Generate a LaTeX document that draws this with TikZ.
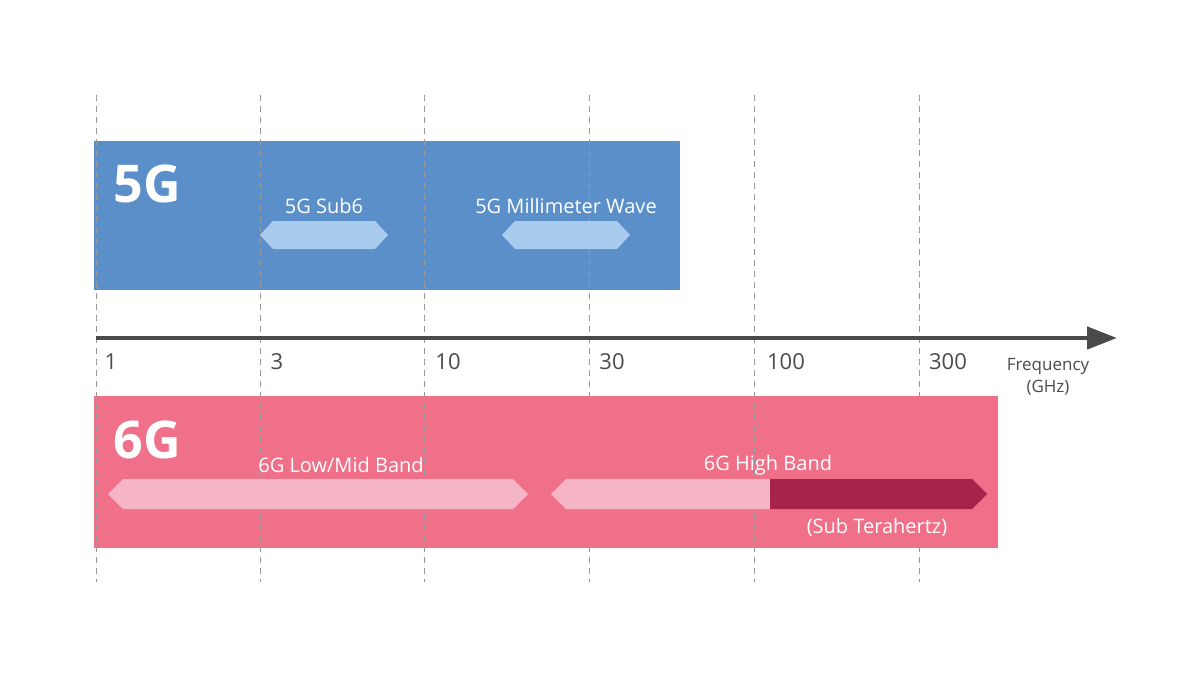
\documentclass[tikz,border=0pt]{standalone}
\usepackage{fontspec}
\setmainfont{Open Sans}
\usetikzlibrary{arrows.meta}
\definecolor{blueband}{HTML}{5A8FC9}
\definecolor{lightblue}{HTML}{A9CBEE}
\definecolor{pinkband}{HTML}{F07089}
\definecolor{lightpink}{HTML}{F6B5C4}
\definecolor{darkred}{HTML}{A8234A}
\definecolor{axisgray}{HTML}{4A4A4A}
\begin{document}
\begin{tikzpicture}[x=1pt,y=-1pt,
  grid/.style={gray!80,dash pattern=on 6pt off 5pt,line width=0.8pt},
  tick/.style={font=\fontsize{22}{26}\selectfont,text=axisgray,anchor=center},
  lbl/.style={font=\fontsize{20}{24}\selectfont,text=white},
  big/.style={font=\bfseries\fontsize{52}{58}\selectfont,text=white}]
\useasboundingbox (0,0) rectangle (1200,675);
\fill[blueband] (94,141) rectangle (680,290);
\fill[pinkband] (94,396) rectangle (998,548);
\foreach \x in {96,260,424,589,754,919} \draw[grid] (\x,95) -- (\x,582);
\coordinate (a0) at (96,338);
\coordinate (a1) at (1117,338);
\draw[axisgray,line width=4.5pt,-{Triangle[length=30pt,width=22pt]}] (a0) -- (a1);
\node[tick] (t1) at (111,362) {1};
\node[tick] (t3) at (277,362) {3};
\node[tick] (t10) at (448,362) {10};
\node[tick] (t30) at (612,362) {30};
\node[tick] (t100) at (786,362) {100};
\node[tick] (t300) at (948,362) {300};
\node[font=\fontsize{17}{22}\selectfont,text=axisgray,align=center] (fq) at (1048,377) {Frequency\\(GHz)};
\node[big] (g5) at (147,184) {5G};
\node[big] (g6) at (147,440) {6G};
\node[lbl] (s6) at (324,206) {5G Sub6};
\node[lbl] (mm) at (566,206) {5G Millimeter Wave};
\fill[lightblue] (260,235) -- (273,221) -- (375,221) -- (388,235) -- (375,249) -- (273,249) -- cycle;
\fill[lightblue] (502,235) -- (515,221) -- (617,221) -- (630,235) -- (617,249) -- (515,249) -- cycle;
\node[lbl] (lm) at (341,465) {6G Low/Mid Band};
\node[lbl] (hb) at (768,465) {6G High Band};
\node[lbl] (st) at (877,527) {(Sub Terahertz)};
\fill[lightpink] (108,494) -- (123,479) -- (513,479) -- (528,494) -- (513,509) -- (123,509) -- cycle;
\fill[lightpink] (551,494) -- (566,479) -- (770,479) -- (770,509) -- (566,509) -- cycle;
\fill[darkred] (770,479) -- (972,479) -- (987,494) -- (972,509) -- (770,509) -- cycle;
\end{tikzpicture}
\end{document}
